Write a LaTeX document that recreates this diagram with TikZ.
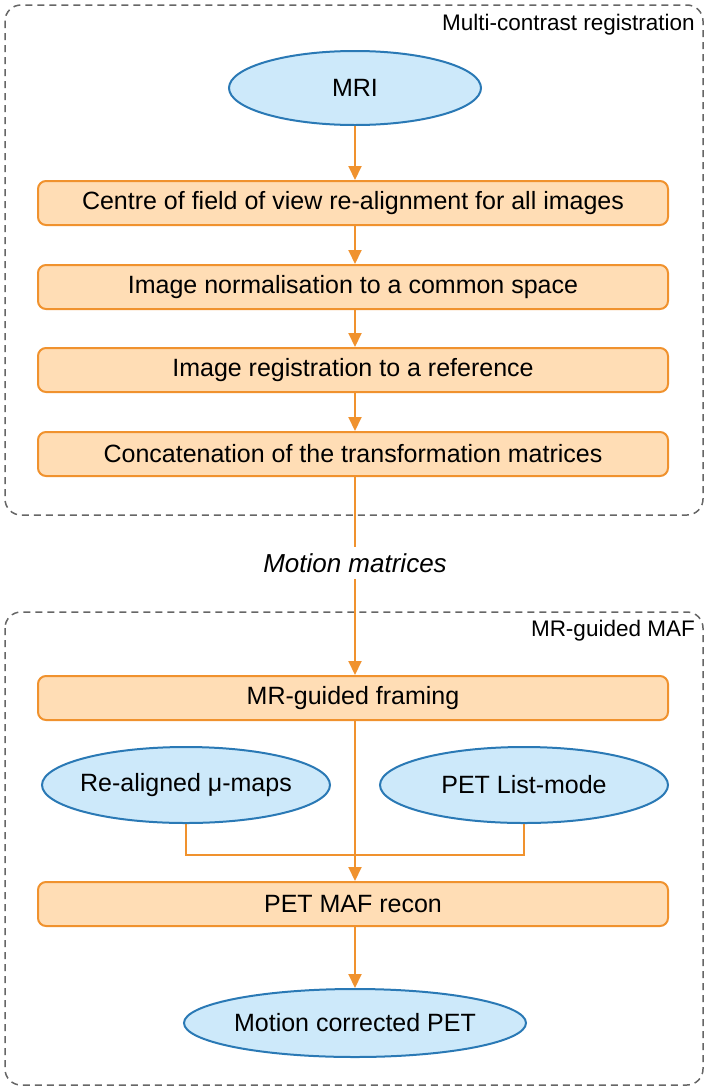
\documentclass[tikz,border=0pt]{standalone}
\usepackage{fontspec}
\setmainfont{Liberation Sans}
\usetikzlibrary{shapes.geometric,arrows.meta}
\definecolor{orstroke}{HTML}{F0922E}
\definecolor{orfill}{HTML}{FFDDB5}
\definecolor{blstroke}{HTML}{2A79B5}
\definecolor{blfill}{HTML}{CDE9FA}
\definecolor{dashgray}{HTML}{666666}
\tikzset{
  procbox/.style={draw=orstroke, fill=orfill, line width=2pt, rounded corners=8pt,
    minimum width=630pt, minimum height=44pt, font=\fontsize{25}{28}\selectfont, inner sep=0pt},
  dataell/.style={ellipse, draw=blstroke, fill=blfill, line width=2pt,
    font=\fontsize{25}{28}\selectfont, inner sep=0pt},
  group/.style={draw=dashgray, dashed, line width=1.5pt, rounded corners=16pt, dash pattern=on 7pt off 5pt},
  grouplabel/.style={font=\fontsize{22.5}{26}\selectfont, anchor=north east, inner sep=0pt},
  flow/.style={draw=orstroke, line width=2pt, -{Triangle[length=14pt,width=13pt]}},
  plain/.style={draw=orstroke, line width=2pt},
}
\begin{document}
\begin{tikzpicture}[x=1pt,y=-1pt]
\useasboundingbox (0,0) rectangle (709,1090);
% groups
\draw[group] (5,5) rectangle (703,515);
\node[grouplabel] (g1) at (695,14) {Multi-contrast registration};
\draw[group] (5,612) rectangle (703,1085);
\node[grouplabel] (g2) at (695,620) {MR-guided MAF};
% nodes
\node[dataell, minimum width=252pt, minimum height=74pt] (mri) at (355,88) {MRI};
\node[procbox] (b1) at (353,203) {Centre of field of view re-alignment for all images};
\node[procbox] (b2) at (353,287) {Image normalisation to a common space};
\node[procbox] (b3) at (353,370) {Image registration to a reference};
\node[procbox] (b4) at (353,454) {Concatenation of the transformation matrices};
\node[font=\fontsize{26}{30}\selectfont\itshape, inner sep=6pt] (mm) at (355,563) {Motion matrices};
\node[procbox] (fr) at (353,698) {MR-guided framing};
\node[dataell, minimum width=288pt, minimum height=76pt, inner xsep=-6pt] (mu) at (186,785) {Re-aligned μ-maps};
\node[dataell, minimum width=288pt, minimum height=76pt] (lm) at (524,785) {PET List-mode};
\node[procbox] (rc) at (353,904) {PET MAF recon};
\node[dataell, minimum width=342pt, minimum height=68pt] (mc) at (355,1023) {Motion corrected PET};
% connectors
\draw[flow] (mri.south) -- (mri.south |- b1.north);
\draw[flow] (b1.south -| mri.south) -- (mri.south |- b2.north);
\draw[flow] (b2.south -| mri.south) -- (mri.south |- b3.north);
\draw[flow] (b3.south -| mri.south) -- (mri.south |- b4.north);
\draw[plain] (b4.south -| mri.south) -- (mm.north);
\draw[flow] (mm.south) -- (mri.south |- fr.north);
\coordinate (j) at (355,855);
\draw[flow] (fr.south -| mri.south) -- (mri.south |- rc.north);
\draw[plain] (mu.south) -- (mu.south |- j) -- (lm.south |- j) -- (lm.south);
\draw[flow] (rc.south -| mri.south) -- (mc.north);
\end{tikzpicture}
\end{document}
